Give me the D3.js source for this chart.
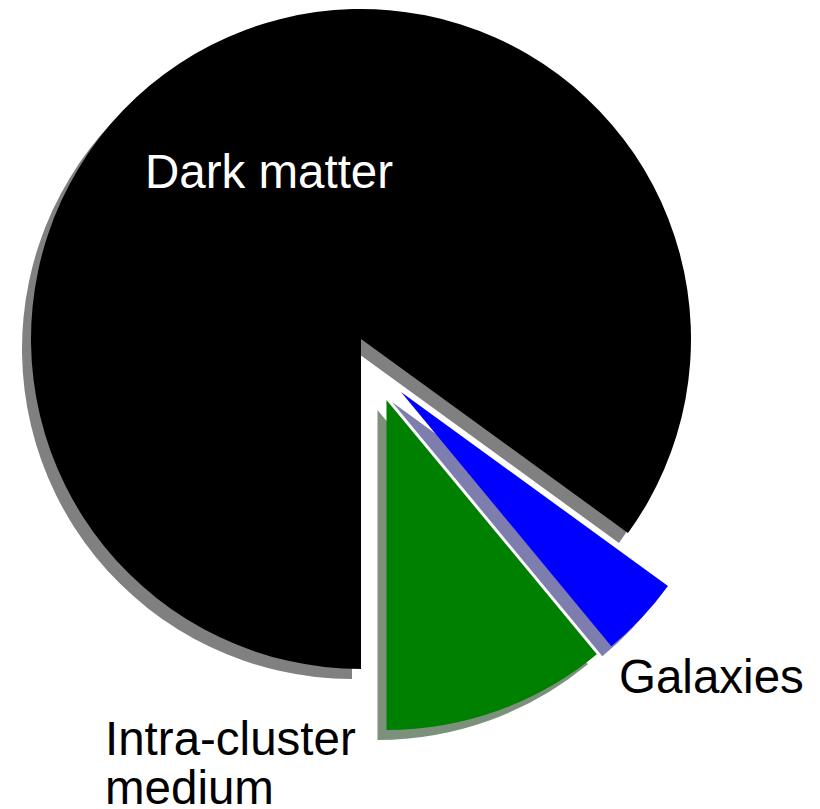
<!DOCTYPE html>
<html>
<head>
<meta charset="utf-8">
<script src="https://cdn.jsdelivr.net/npm/d3@7"></script>
<style>
  body { margin: 0; background: #fff; }
  svg { display: block; }
  text { font-family: "Liberation Sans", Arial, sans-serif; }
</style>
</head>
<body>
<div id="chart"></div>
<script>
// galaxy cluster mass composition (percent)
const categories = ["Dark matter", "Galaxies", "Intra-cluster medium"];
const values = [85, 4, 11];

const colors = ["#000000", "#0000ff", "#008000"];
const shadowColors = ["#808080", "#7d7dae", "#7b917b"];

const width = 820, height = 809;
const cx = 361, cy = 339, radius = 330;
// how far each slice is pulled out of the pie
const explode = [[0, 0], [40, 53], [25.5, 61]];
const shadowOffset = [-9, 10];

const svg = d3.select("#chart")
  .append("svg")
  .attr("width", width)
  .attr("height", height);

const pie = d3.pie()
  .sort(null)
  .startAngle(Math.PI)
  .endAngle(3 * Math.PI);

const arc = d3.arc().innerRadius(0).outerRadius(radius);

const slices = pie(values).map((d, i) => ({ ...d, i }));

const g = svg.append("g").attr("transform", `translate(${cx},${cy})`);

// shadows first, all behind the slices
g.selectAll("path.shadow")
  .data(slices)
  .enter()
  .append("path")
  .attr("class", "shadow")
  .attr("d", arc)
  .attr("fill", (d) => shadowColors[d.i])
  .attr("transform", (d) =>
    `translate(${explode[d.i][0] + shadowOffset[0]},${explode[d.i][1] + shadowOffset[1]})`);

g.selectAll("path.slice")
  .data(slices)
  .enter()
  .append("path")
  .attr("class", "slice")
  .attr("d", arc)
  .attr("fill", (d) => colors[d.i])
  .attr("transform", (d) => `translate(${explode[d.i][0]},${explode[d.i][1]})`);

// labels
const labels = [
  { lines: ["Dark matter"], x: 145, y: 188, fill: "#fff" },
  { lines: ["Galaxies"], x: 619, y: 693, fill: "#000" },
  { lines: ["Intra-cluster", "medium"], x: 105, y: 755, fill: "#000" }
];

labels.forEach((l) => {
  const t = svg.append("text")
    .attr("x", l.x)
    .attr("y", l.y)
    .attr("font-size", 47.5)
    .attr("fill", l.fill);
  l.lines.forEach((s, k) => {
    t.append("tspan")
      .attr("x", l.x)
      .attr("dy", k === 0 ? 0 : 49)
      .text(s);
  });
});
</script>
</body>
</html>
